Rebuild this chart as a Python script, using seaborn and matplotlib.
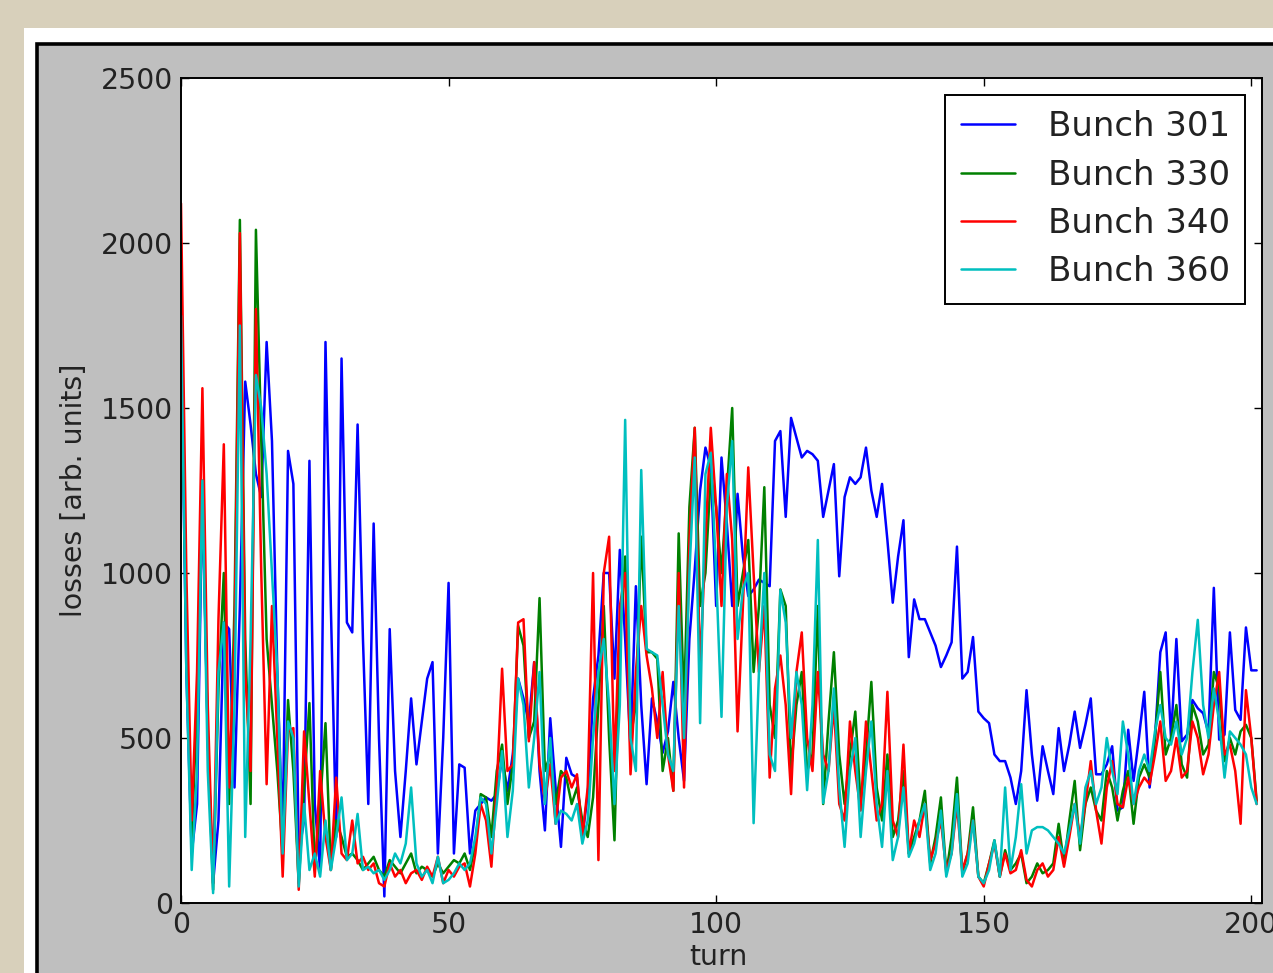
import numpy as np
import pandas as pd
import matplotlib
matplotlib.use("Agg")
import matplotlib.pyplot as plt
from matplotlib.patches import Rectangle
import seaborn as sns

# ---------------- data ----------------
series_names = ["Bunch 301", "Bunch 330", "Bunch 340", "Bunch 360"]
series_colors = ["#0000ff", "#008000", "#ff0000", "#00bfbf"]

bunch_301 = [
    1750, 700, 150, 300, 1250, 500, 60, 250, 850, 830,
    350, 900, 1580, 1450, 1300, 1230, 1700, 1400, 700, 200,
    1370, 1270, 150, 250, 1340, 300, 100, 1700, 900, 200,
    1650, 850, 820, 1450, 800, 300, 1150, 500, 20, 830,
    400, 200, 400, 620, 420, 550, 680, 730, 150, 500,
    970, 150, 420, 410, 150, 280, 300, 320, 310, 330,
    440, 340, 450, 680, 620, 545, 730, 400, 220, 560,
    350, 170, 440, 390, 380, 200, 330, 620, 750, 1000,
    1000, 680, 1070, 800, 470, 960, 600, 360, 620, 550,
    455, 520, 670, 500, 370, 800, 1010, 1250, 1380, 1320,
    900, 1350, 1150, 900, 1240, 1050, 930, 950, 980, 970,
    960, 1400, 1430, 1170, 1470, 1410, 1350, 1370, 1360, 1340,
    1170, 1250, 1330, 990, 1230, 1290, 1270, 1290, 1380, 1250,
    1170, 1270, 1100, 910, 1050, 1160, 745, 920, 860, 860,
    820, 780, 715, 750, 790, 1080, 680, 700, 806, 580,
    560, 545, 450, 430, 430, 380, 300, 400, 645, 450,
    310, 475, 400, 330, 530, 400, 480, 580, 470, 540,
    620, 390, 390, 420, 475, 280, 290, 525, 370, 500,
    640, 350, 500, 760, 820, 500, 800, 490, 510, 615,
    590, 575, 515, 955, 495, 510, 820, 585, 555, 835,
    705, 705,
]

bunch_330 = [
    1780, 800, 200, 600, 1280, 500, 40, 650, 1000, 300,
    900, 2070, 800, 300, 2040, 1400, 800, 600, 400, 150,
    615, 400, 60, 350, 606, 100, 300, 545, 100, 250,
    200, 140, 150, 130, 100, 120, 140, 100, 80, 130,
    110, 90, 120, 150, 90, 110, 100, 80, 120, 90,
    110, 130, 120, 150, 100, 180, 330, 320, 200, 400,
    480, 300, 420, 840, 780, 500, 550, 924, 400, 450,
    300, 400, 380, 300, 350, 250, 200, 320, 600, 900,
    500, 190, 800, 1050, 500, 600, 1110, 760, 760, 740,
    400, 500, 340, 1120, 600, 1200, 1440, 900, 1000, 1300,
    1200, 1000, 1250, 1500, 900, 1000, 1100, 700, 900, 1260,
    600, 500, 950, 900, 400, 600, 700, 400, 450, 900,
    300, 550, 760, 450, 300, 450, 580, 300, 450, 670,
    350, 250, 450, 200, 250, 400, 150, 200, 250, 340,
    120, 200, 320, 90, 200, 380, 90, 150, 290, 80,
    60, 120, 190, 80, 160, 100, 120, 150, 60, 80,
    120, 90, 100, 120, 240, 120, 250, 370, 160, 300,
    350, 280, 250, 400, 350, 250, 340, 400, 240, 380,
    420, 380, 500, 700, 450, 500, 600, 420, 380, 600,
    550, 450, 480, 700, 650, 430, 500, 450, 520, 540,
    500, 310,
]

bunch_340 = [
    2120, 1000, 250, 700, 1560, 600, 60, 860, 1390, 350,
    800, 2030, 700, 400, 1800, 1000, 360, 900, 500, 80,
    520, 530, 40, 520, 300, 80, 400, 200, 100, 380,
    150, 130, 250, 120, 140, 100, 120, 60, 50, 120,
    80, 100, 60, 90, 100, 70, 110, 80, 140, 60,
    100, 80, 110, 120, 50, 150, 300, 250, 110, 350,
    710, 400, 420, 850, 860, 490, 730, 420, 310, 420,
    240, 380, 400, 350, 390, 200, 350, 1000, 130, 1000,
    1110, 400, 900, 1000, 390, 700, 900, 750, 650, 500,
    700, 450, 340, 1000, 350, 1100, 1440, 700, 1100, 1440,
    1200, 900, 1300, 1100, 520, 900, 1320, 1000, 700, 900,
    380, 650, 750, 600, 330, 700, 820, 500, 400, 700,
    450, 400, 600, 300, 250, 550, 400, 280, 550, 400,
    250, 300, 640, 250, 200, 480, 150, 250, 200, 300,
    130, 180, 250, 100, 150, 300, 100, 150, 250, 80,
    50, 120, 180, 80, 150, 90, 100, 160, 70, 50,
    100, 120, 80, 100, 200, 110, 200, 300, 200, 300,
    430, 280, 180, 350, 430, 300, 290, 380, 300, 350,
    380, 360, 450, 550, 370, 400, 500, 380, 400, 550,
    500, 390, 450, 600, 700, 450, 480, 400, 240, 645,
    500, 300,
]

bunch_360 = [
    1780, 700, 100, 400, 1280, 400, 30, 700, 850, 50,
    600, 1750, 200, 800, 1600, 1500, 1300, 1000, 700, 150,
    550, 500, 50, 300, 100, 150, 80, 250, 100, 200,
    320, 130, 150, 270, 100, 110, 90, 100, 70, 100,
    150, 120, 180, 350, 120, 80, 100, 60, 140, 60,
    70, 90, 120, 100, 120, 200, 320, 300, 150, 300,
    460, 200, 340, 680, 600, 350, 500, 700, 300, 500,
    240, 280, 270, 250, 300, 180, 250, 500, 700, 800,
    600, 300, 600, 1464, 500, 400, 1312, 770, 760, 750,
    600, 450, 400, 900, 500, 1000, 1350, 545, 1300, 1364,
    1000, 564, 1200, 1400, 800, 950, 1000, 242, 700, 1000,
    450, 400, 948, 850, 500, 700, 600, 342, 600, 1100,
    303, 400, 650, 350, 170, 400, 500, 200, 400, 550,
    300, 170, 400, 130, 200, 350, 140, 180, 250, 300,
    100, 150, 280, 80, 150, 330, 80, 120, 250, 80,
    60, 100, 190, 80, 350, 100, 200, 360, 150, 220,
    230, 230, 220, 200, 180, 150, 220, 300, 180, 350,
    400, 300, 350, 500, 400, 330, 550, 450, 300, 400,
    450, 400, 520, 600, 500, 480, 550, 450, 500, 700,
    858, 600, 500, 650, 550, 380, 520, 500, 480, 450,
    350, 300,
]

y_ticks = [0, 500, 1000, 1500, 2000, 2500]
x_ticks = [0, 50, 100, 150, 200]

all_series = [bunch_301, bunch_330, bunch_340, bunch_360]

frames = []
for name, vals in zip(series_names, all_series):
    frames.append(pd.DataFrame({"turn": np.arange(len(vals)), "losses": vals, "bunch": name}))
df = pd.concat(frames, ignore_index=True)

# ---------------- style ----------------
sns.set_style("ticks")
plt.rcParams["font.family"] = ["DejaVu Sans"]
W, H = 1273, 973
fig = plt.figure(figsize=(W / 100, H / 100), dpi=100)
fig.patch.set_facecolor("#d8d0bb")

# white mat + grey framed canvas (cropped screenshot look)
fig.add_artist(Rectangle((24 / W, -0.05), 1.1, (H - 28) / H + 0.05,
                         transform=fig.transFigure, facecolor="white",
                         edgecolor="none", zorder=-3))
fig.add_artist(Rectangle((36.5 / W, -0.05), 1.1, (H - 43.5) / H + 0.05,
                         transform=fig.transFigure, facecolor="#bfbfbf",
                         edgecolor="black", linewidth=2.6, zorder=-2))

ax = fig.add_axes([181 / W, 1 - 903 / H, (1262 - 181) / W, (903 - 78) / H])
ax.set_facecolor("white")

sns.lineplot(data=df, x="turn", y="losses", hue="bunch", hue_order=series_names,
             palette=series_colors, estimator=None, sort=False, linewidth=1.8,
             ax=ax)

ax.set_xlim(0, 202)
ax.set_ylim(0, 2500)
ax.set_xticks(x_ticks)
ax.set_yticks(y_ticks)
ax.tick_params(direction="in", length=6, width=1, top=True, right=True,
               labelsize=20.4, pad=6, colors="black")
ax.tick_params(axis="both", labelcolor="#222222")
for sp in ax.spines.values():
    sp.set_visible(True)
    sp.set_linewidth(1.4)
    sp.set_color("black")

ax.set_xlabel("turn", fontsize=20.4, color="#222222")
ax.set_ylabel("losses [arb. units]", fontsize=20.4, color="#222222")
ax.yaxis.set_label_coords(-0.086, 0.5)
ax.xaxis.set_label_coords(0.497, -0.048)

handles, labels = ax.get_legend_handles_labels()
leg = ax.legend(handles, labels, loc="upper right", fontsize=24.5,
                frameon=True, fancybox=False, shadow=False, framealpha=1,
                edgecolor="black", facecolor="white", handlelength=1.6,
                handletextpad=0.95, labelspacing=0.45, borderpad=0.45,
                borderaxespad=0.5)
leg.get_frame().set_linewidth(1.4)
for t in leg.get_texts():
    t.set_color("#222222")

fig.savefig("out.png", dpi=100, facecolor=fig.get_facecolor())
